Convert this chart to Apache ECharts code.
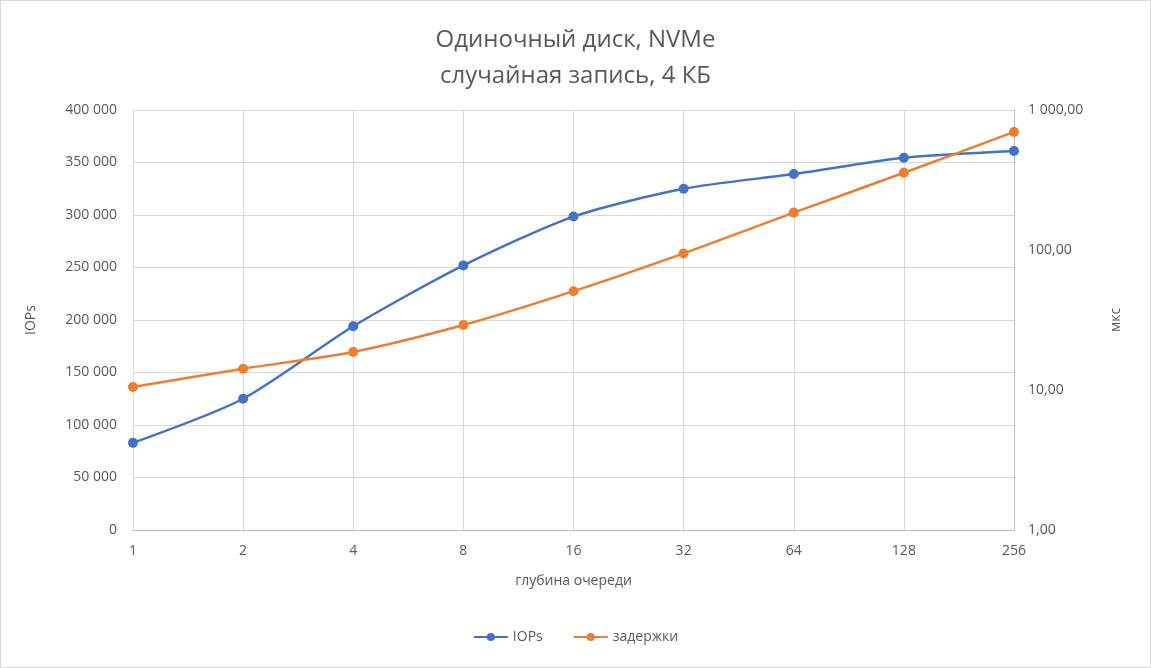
<!DOCTYPE html>
<html><head><meta charset="utf-8">
<script src="https://cdn.jsdelivr.net/npm/echarts@6/dist/echarts.min.js"></script>
<style>html,body{margin:0;padding:0;background:#fff}#c{width:1151px;height:668px;box-sizing:border-box;border:1px solid #d9d9d9}</style>
</head><body><div id="c"></div>
<script>
// данные графика
var depths = ["1","2","4","8","16","32","64","128","256"];
var iops = [83000,125000,194000,252000,298500,325000,339000,354500,361000];
var latency = [10.5,14.2,18.7,29.1,50.8,94.6,185,356,697];

var fmtThousands = function(v){ return String(v).replace(/\B(?=(\d{3})+(?!\d))/g,' '); };
var fmtRight = function(v){
	var s = v.toFixed(2).split('.');
	return fmtThousands(s[0]) + ',' + s[1];
};
var txt = {color:'#595959', fontFamily:'Open Sans', fontSize:14};

var chart = echarts.init(document.getElementById('c'));
chart.setOption({
	animation:false,
	title:{text:'Одиночный диск, NVMe\nслучайная запись, 4 КБ', left:'center', top:16,
		textStyle:{color:'#595959', fontFamily:'Open Sans', fontSize:24, fontWeight:'normal', lineHeight:36}},
	legend:{bottom:18, itemWidth:34, itemHeight:10, itemGap:30,
		textStyle:txt, data:['IOPs','задержки']},
	grid:{left:132, right:136, top:109, bottom:137},
	xAxis:{type:'category', data:depths, boundaryGap:false,
		name:'глубина очереди', nameLocation:'middle', nameGap:44, nameTextStyle:txt,
		axisLine:{lineStyle:{color:'#bfbfbf'}}, axisTick:{show:false},
		axisLabel:Object.assign({margin:14}, txt),
		splitLine:{show:true, lineStyle:{color:'#d9d9d9'}}},
	yAxis:[
		{type:'value', min:0, max:400000, interval:50000,
			name:'IOPs', nameLocation:'middle', nameGap:95, nameTextStyle:txt,
			axisLabel:Object.assign({formatter:fmtThousands, margin:16}, txt),
			axisLine:{show:false}, axisTick:{show:false},
			splitLine:{lineStyle:{color:'#d9d9d9'}}},
		{type:'log', logBase:10, min:1, max:1000,
			name:'мкс', nameLocation:'middle', nameGap:95, nameTextStyle:txt,
			axisLabel:Object.assign({formatter:fmtRight, margin:14}, txt),
			axisLine:{show:true, lineStyle:{color:'#bfbfbf'}}, axisTick:{show:false},
			splitLine:{show:false}}
	],
	series:[
		{name:'IOPs', type:'line', data:iops, yAxisIndex:0, smooth:0.25,
			symbol:'circle', symbolSize:10, color:'#4472C4', lineStyle:{width:2.5}},
		{name:'задержки', type:'line', data:latency, yAxisIndex:1, smooth:0.25,
			symbol:'circle', symbolSize:10, color:'#ED7D31', lineStyle:{width:2.5}}
	]
});
</script></body></html>
